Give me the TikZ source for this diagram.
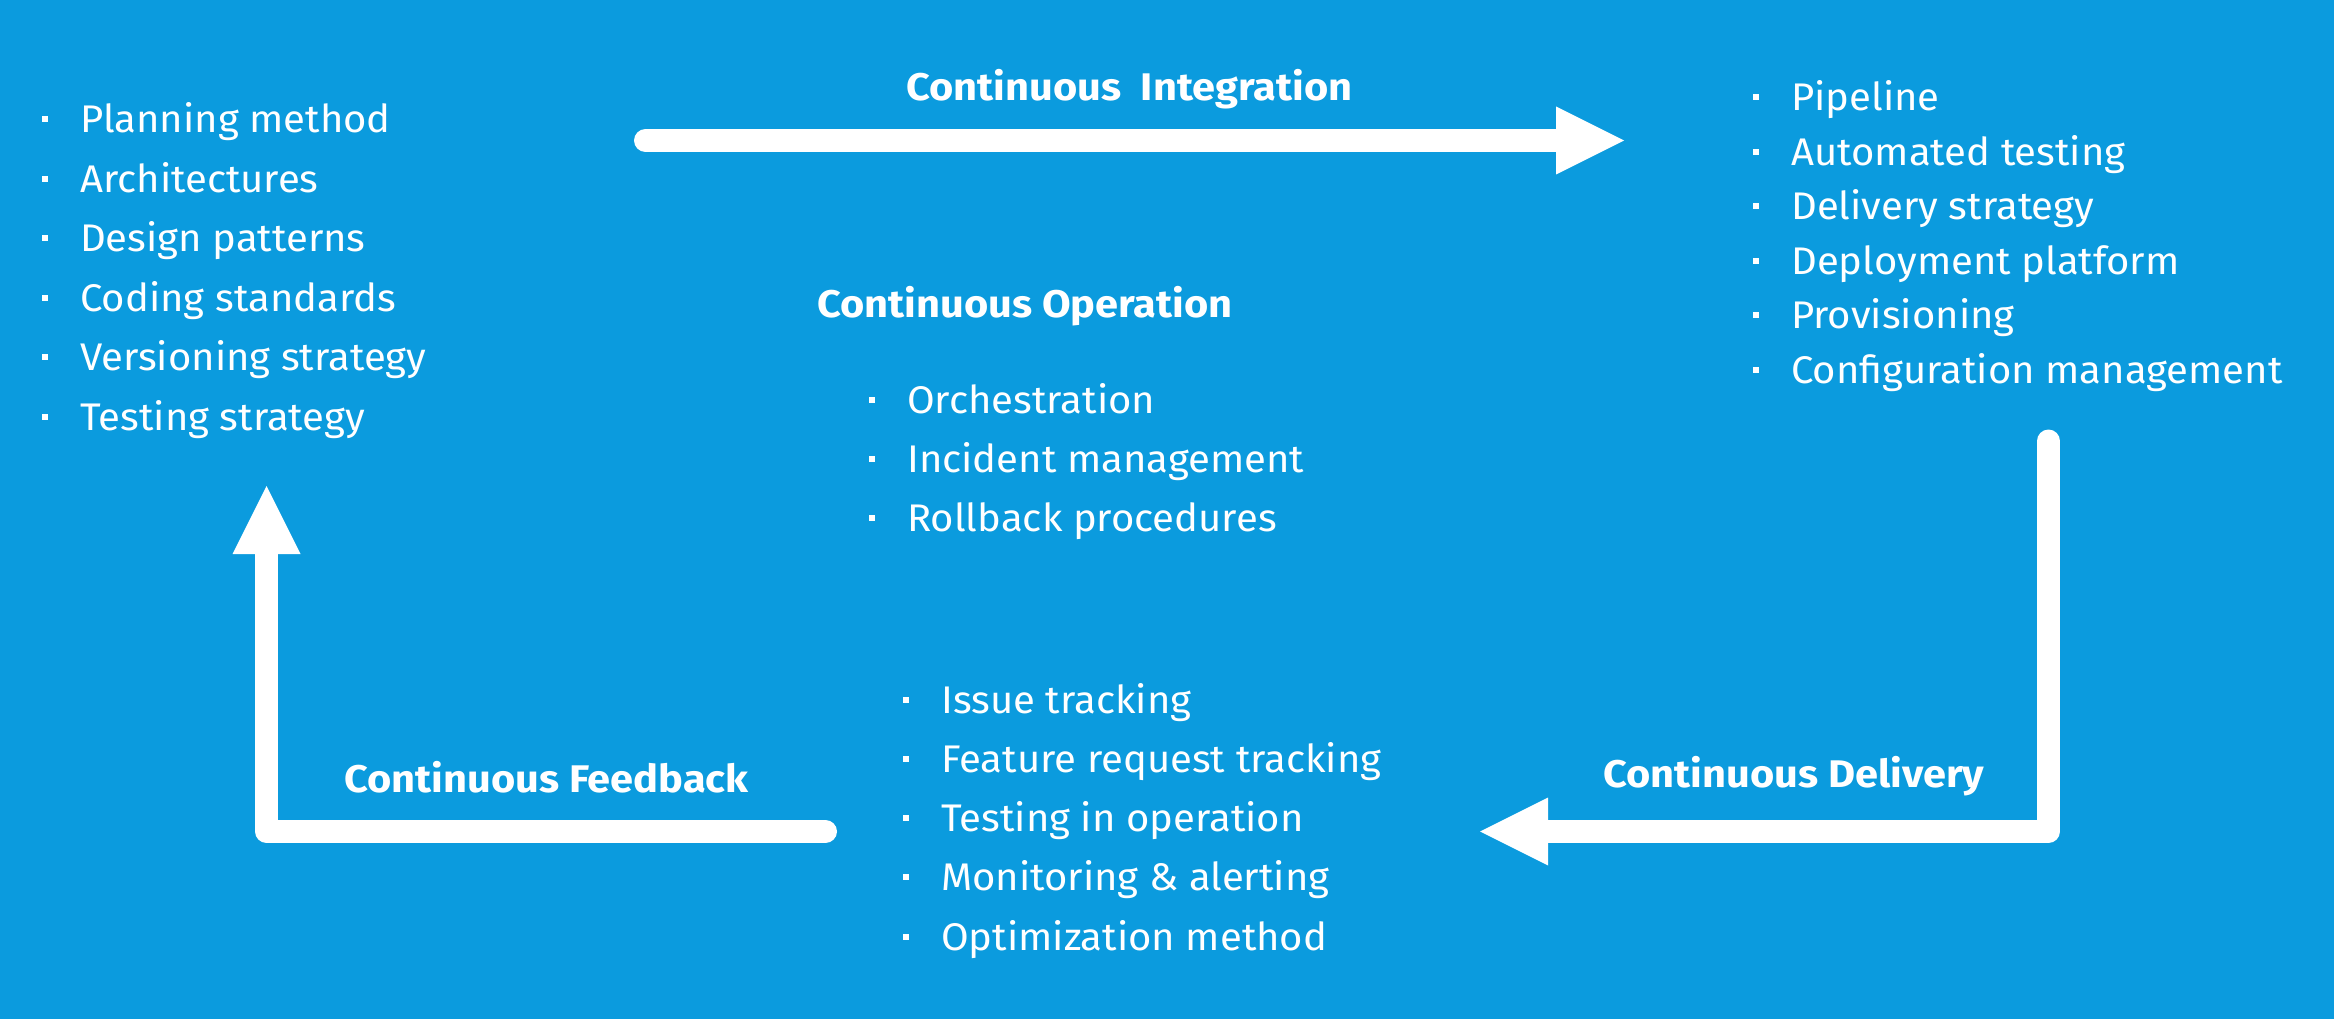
\documentclass[tikz,border=0pt]{standalone}
\usepackage{fontspec}
\setmainfont{Fira Sans}
\newfontfamily\itemfont{Fira Sans}[FakeStretch=1.04]
\newfontfamily\titlefont{Fira Sans}[FakeStretch=1.08]
\usetikzlibrary{arrows.meta}
\definecolor{bg}{RGB}{11,155,222}
\newcommand\bulitem[1]{\makebox[38pt][l]{\raisebox{10.5pt}{\rule{6pt}{6pt}}}#1}
\begin{document}
\begin{tikzpicture}[x=1pt,y=-1pt,
  itemtext/.style={anchor=base west,inner sep=0pt,text=white,font=\itemfont\fontsize{38.5}{44}\selectfont},
  titletext/.style={anchor=base west,inner sep=0pt,text=white,font=\titlefont\bfseries\fontsize{38.5}{44}\selectfont},
  flow/.style={draw=white,line width=23pt,line cap=round,line join=round,
    -{Triangle[length=68pt,width=68pt,line width=0pt]}}]
\fill[bg] (0,0) rectangle (2334,1019);
\useasboundingbox (0,0) rectangle (2334,1019);
% left list
\foreach \t [count=\i] in {Planning method,Architectures,Design patterns,Coding standards,Versioning strategy,Testing strategy}
  \node[itemtext] (plan\i) at (42,{133+59.4*(\i-1)}) {\bulitem{\t}};
% right list
\foreach \t [count=\i] in {Pipeline,Automated testing,Delivery strategy,Deployment platform,Provisioning,Configuration management}
  \node[itemtext] (deliv\i) at (1753,{111+54.4*(\i-1)}) {\bulitem{\t}};
% operation list
\node[titletext] (optitle) at (817,317) {Continuous Operation};
\foreach \t [count=\i] in {Orchestration,Incident management,Rollback procedures}
  \node[itemtext] (op\i) at (869,{413+59*(\i-1)}) {\bulitem{\t}};
% feedback list
\foreach \t [count=\i] in {Issue tracking,Feature request tracking,Testing in operation,Monitoring \& alerting,Optimization method}
  \node[itemtext] (fb\i) at (903,{713+59.3*(\i-1)}) {\bulitem{\t}};
% titles
\node[titletext] (cititle) at (906,101) {Continuous\ \ Integration};
\node[titletext] (cdtitle) at (1603,787) {Continuous Delivery};
\node[titletext] (cftitle) at (344,792) {Continuous Feedback};
% arrow coordinates
\coordinate (ciA) at (645.5,140.5);
\coordinate (ciB) at (1624,140.5);
\coordinate (cdA) at (2048.5,441);
\coordinate (cdC) at (2048.5,831.5);
\coordinate (cdB) at (1480,831.5);
\coordinate (cfA) at (825.5,831.5);
\coordinate (cfC) at (266.5,831.5);
\coordinate (cfB) at (266.5,486);
\draw[flow] (ciA) -- (ciB);
\draw[flow] (cdA) -- (cdC) -- (cdB);
\draw[flow] (cfA) -- (cfC) -- (cfB);
\end{tikzpicture}
\end{document}
